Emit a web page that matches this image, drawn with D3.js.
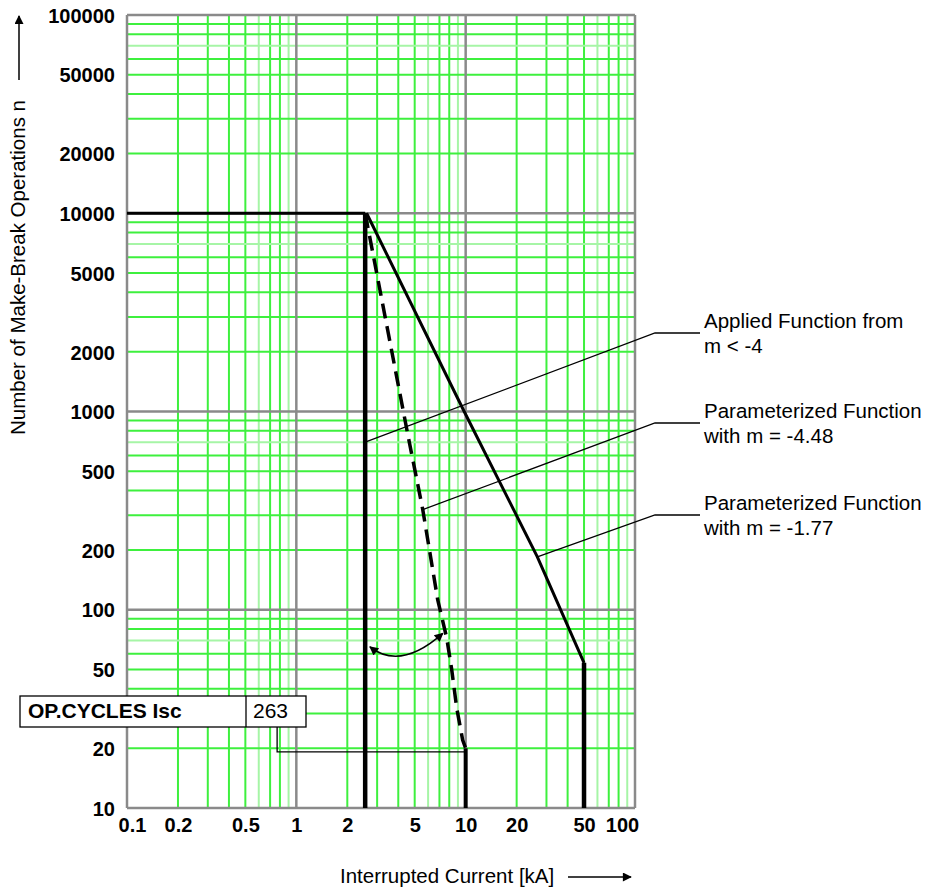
<!DOCTYPE html>
<html>
<head>
<meta charset="utf-8">
<script src="https://cdn.jsdelivr.net/npm/d3@7"></script>
<style>
  html, body { margin: 0; padding: 0; background: #fff; }
  svg { display: block; font-family: "Liberation Sans", Arial, sans-serif; }
</style>
</head>
<body>
<svg id="chart" width="933" height="890"></svg>
<script>
// ---------- data ----------
const xTickValues = [0.1, 0.2, 0.5, 1, 2, 5, 10, 20, 50, 100];
const yTickValues = [10, 20, 50, 100, 200, 500, 1000, 2000, 5000, 10000, 20000, 50000, 100000];
const xDecades = [0.1, 1, 10, 100];
const yDecades = [10, 100, 1000, 10000, 100000];

// limit (max mechanical operations)
const mechLimit = [[0.1, 10000], [2.55, 10000]];
const cutoffRated = [[2.55, 10000], [2.55, 10]];
// parameterized function m = -1.77
const funcM177 = [[2.6, 10000], [9.8, 1000], [26.5, 185], [50, 54]];
const cutoffM177 = [[50, 54], [50, 10]];
// parameterized function m = -4.48 (dashed)
const funcM448 = [[2.55, 10000], [4.56, 760], [5.58, 320], [6.84, 112], [7.73, 72], [8.27, 50], [8.85, 32], [9.6, 22], [10, 20]];
const cutoffM448 = [[10, 20], [10, 10]];
// curved arrow between rated cutoff and dashed curve
const swingArrow = [[2.72, 65], [7.33, 76]];

// annotations: anchor on curve (data) -> label
const annotations = [
  { anchor: [2.55, 700], lines: ["Applied Function from", "m < -4"] },
  { anchor: [5.58, 320], lines: ["Parameterized Function", "with m = -4.48"] },
  { anchor: [26.5, 185], lines: ["Parameterized Function", "with m = -1.77"] }
];
const opCyclesLabel = "OP.CYCLES Isc";
const opCyclesValue = "263";
const opCyclesLeader = [[0.77, 19.2], [10, 19.2]];

const xTitle = "Interrupted Current [kA]";
const yTitle = "Number of Make-Break Operations n";

// ---------- layout ----------
const svg = d3.select("#chart");
const L = 127, R = 635, T = 15, B = 808;
const x = d3.scaleLog().domain([0.1, 100]).range([L, R]);
const y = d3.scaleLog().domain([10, 100000]).range([B, T]);

svg.append("rect").attr("width", 933).attr("height", 890).attr("fill", "#fff");

const defs = svg.append("defs");
defs.append("marker").attr("id", "ah").attr("viewBox", "0 0 10 10")
  .attr("refX", 9).attr("refY", 5).attr("markerWidth", 12).attr("markerHeight", 9)
  .attr("markerUnits", "userSpaceOnUse").attr("orient", "auto-start-reverse")
  .append("path").attr("d", "M0,0 L10,5 L0,10 Z").attr("fill", "#000");

// ---------- grid ----------
const minor = [];
for (let d = 0.1; d < 100; d *= 10) for (let k = 2; k <= 9; k++) minor.push(+(d * k).toPrecision(3));
const minorY = [];
for (let d = 10; d < 100000; d *= 10) for (let k = 2; k <= 9; k++) minorY.push(d * k);

const grid = svg.append("g");
grid.selectAll(".vx").data(minor).join("line")
  .attr("x1", d => x(d)).attr("x2", d => x(d)).attr("y1", T).attr("y2", B)
  .attr("stroke", (d, i) => (i % 8 === 4 || i % 8 === 7) ? "#a6f5a6" : "#3ef03e")
  .attr("stroke-width", 2);
grid.selectAll(".hy").data(minorY).join("line")
  .attr("y1", d => y(d)).attr("y2", d => y(d)).attr("x1", L).attr("x2", R)
  .attr("stroke", (d, i) => (i % 8 === 5) ? "#a6f5a6" : "#3ef03e")
  .attr("stroke-width", 2);
grid.selectAll(".dx").data(xDecades).join("line")
  .attr("x1", d => x(d)).attr("x2", d => x(d)).attr("y1", T).attr("y2", B)
  .attr("stroke", "#8a8a8a").attr("stroke-width", 2.5);
grid.selectAll(".dy").data(yDecades).join("line")
  .attr("y1", d => y(d)).attr("y2", d => y(d)).attr("x1", L).attr("x2", R)
  .attr("stroke", "#8a8a8a").attr("stroke-width", 2.5);

// ---------- axes ----------
const yAxis = svg.append("g").attr("transform", `translate(${L},0)`)
  .call(d3.axisLeft(y).tickValues(yTickValues).tickSize(0).tickPadding(12).tickFormat(d3.format("d")));
yAxis.select(".domain").remove();
yAxis.selectAll("text").attr("font-size", 20).attr("font-weight", "bold")
  .attr("font-family", "Liberation Sans, Arial, sans-serif").attr("fill", "#000").attr("dy", "0.36em");

const xAxis = svg.append("g").attr("transform", `translate(0,${B})`)
  .call(d3.axisBottom(x).tickValues(xTickValues).tickSize(0).tickPadding(10).tickFormat(d => String(d)));
xAxis.select(".domain").remove();
xAxis.selectAll("text").attr("font-size", 20).attr("font-weight", "bold")
  .attr("font-family", "Liberation Sans, Arial, sans-serif").attr("fill", "#000")
  .attr("dx", d => d === 0.1 ? 5 : d === 100 ? -13 : 0);

// ---------- curves ----------
const line = d3.line().x(d => x(d[0])).y(d => y(d[1]));
const curves = svg.append("g").attr("fill", "none").attr("stroke", "#000");
curves.append("path").attr("d", line(mechLimit)).attr("stroke-width", 3);
curves.append("path").attr("d", line(cutoffRated)).attr("stroke-width", 4.5);
curves.append("path").attr("d", line(funcM177)).attr("stroke-width", 3);
curves.append("path").attr("d", line(cutoffM177)).attr("stroke-width", 4.5);
curves.append("path").attr("d", line(funcM448)).attr("stroke-width", 3.5).attr("stroke-dasharray", "15,8");
curves.append("path").attr("d", line(cutoffM448)).attr("stroke-width", 4);

// curved double arrow
{
  const p0 = [x(swingArrow[0][0]), y(swingArrow[0][1])];
  const p1 = [x(swingArrow[1][0]), y(swingArrow[1][1])];
  const cx = (p0[0] + p1[0]) / 2 - 6, cy = Math.max(p0[1], p1[1]) + 24;
  svg.append("path")
    .attr("d", `M${p0[0]},${p0[1]} Q${cx},${cy} ${p1[0]},${p1[1]}`)
    .attr("fill", "none").attr("stroke", "#000").attr("stroke-width", 1.5)
    .attr("marker-start", "url(#ah)").attr("marker-end", "url(#ah)");
}

// ---------- annotations ----------
const labelX = 704, elbowX = 655;
const labelBaselines = [328, 418, 510];
annotations.forEach((a, i) => {
  const by = labelBaselines[i];
  const ly = by + 5;
  svg.append("path")
    .attr("d", `M${x(a.anchor[0])},${y(a.anchor[1])} L${elbowX},${ly} L${labelX - 4},${ly}`)
    .attr("fill", "none").attr("stroke", "#000").attr("stroke-width", 1.3);
  const t = svg.append("text").attr("x", labelX).attr("y", by)
    .attr("font-size", 20.5).attr("fill", "#000");
  a.lines.forEach((s, j) => t.append("tspan").attr("x", labelX).attr("dy", j === 0 ? 0 : 25).text(s));
});

// OP.CYCLES box + leader
svg.append("path")
  .attr("d", line(opCyclesLeader).replace(/^M([^,]+),([^L]+)/, (m, a, b) => `M${a},727L${a},${b}`))
  .attr("fill", "none").attr("stroke", "#000").attr("stroke-width", 1.3);
svg.append("rect").attr("x", 20).attr("y", 696).attr("width", 286).attr("height", 31)
  .attr("fill", "#fff").attr("stroke", "#000").attr("stroke-width", 1.3);
svg.append("line").attr("x1", 246).attr("x2", 246).attr("y1", 696).attr("y2", 727)
  .attr("stroke", "#000").attr("stroke-width", 1.3);
svg.append("text").attr("x", 28).attr("y", 718).attr("font-size", 21).attr("font-weight", "bold").text(opCyclesLabel);
svg.append("text").attr("x", 253).attr("y", 718).attr("font-size", 21).text(opCyclesValue);

// ---------- titles ----------
svg.append("text").attr("x", 340).attr("y", 883).attr("font-size", 20.5).text(xTitle);
svg.append("line").attr("x1", 568).attr("x2", 631).attr("y1", 877).attr("y2", 877)
  .attr("stroke", "#000").attr("stroke-width", 1.5).attr("marker-end", "url(#ah)");

svg.append("text").attr("transform", "translate(25,435) rotate(-90)")
  .attr("font-size", 20.5).text(yTitle);
svg.append("line").attr("x1", 19).attr("x2", 19).attr("y1", 80).attr("y2", 16)
  .attr("stroke", "#000").attr("stroke-width", 1.5).attr("marker-end", "url(#ah)");
</script>
</body>
</html>
